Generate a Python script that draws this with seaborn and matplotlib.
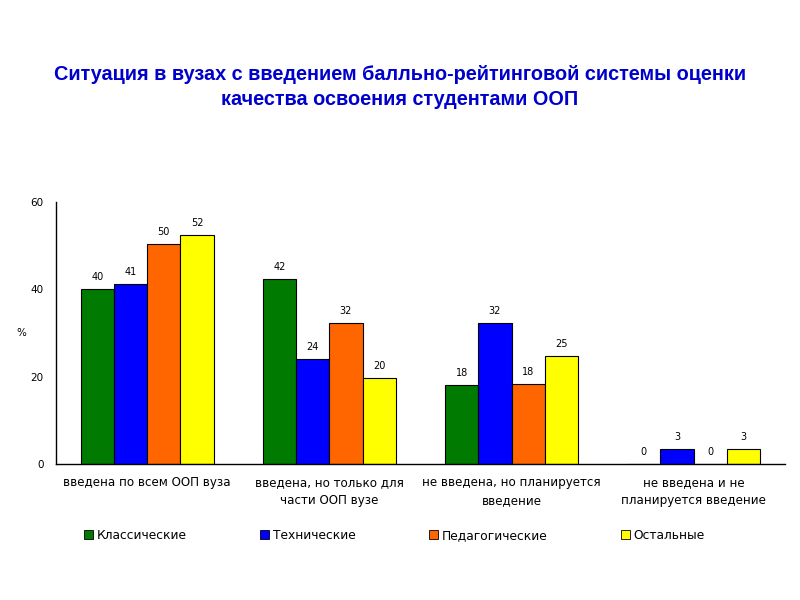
import matplotlib
matplotlib.use("Agg")
import matplotlib.pyplot as plt
import seaborn as sns
import pandas as pd

categories = ["введена по всем ООП вуза",
              "введена, но только для\nчасти ООП вузе",
              "не введена, но планируется\nвведение",
              "не введена и не\nпланируется введение"]
series = ["Классические", "Технические", "Педагогические", "Остальные"]
klassicheskie = [40.1, 42.4, 18.1, 0]
tekhnicheskie = [41.2, 24.0, 32.3, 3.4]
pedagogicheskie = [50.4, 32.3, 18.3, 0]
ostalnye = [52.4, 19.7, 24.7, 3.4]
colors = ["#007A00", "#0000FF", "#FF6600", "#FFFF00"]

rows = []
for name, vals in zip(series, [klassicheskie, tekhnicheskie, pedagogicheskie, ostalnye]):
    for cat, v in zip(categories, vals):
        rows.append({"cat": cat, "series": name, "value": v})
df = pd.DataFrame(rows)

sns.set_theme(style="white")
plt.rcParams['font.family'] = ['DejaVu Sans']
plt.rcParams['text.color'] = 'black'
plt.rcParams['xtick.color'] = 'black'
plt.rcParams['ytick.color'] = 'black'
plt.rcParams['axes.labelcolor'] = 'black'

fig = plt.figure(figsize=(8, 6), dpi=100)
ax = fig.add_axes([0.07, 0.2267, 0.911, 0.4366])

sns.barplot(data=df, x="cat", y="value", hue="series", palette=colors,
            width=0.73, gap=0, edgecolor="black", linewidth=0.8,
            saturation=1, legend=False, ax=ax)

for cont in ax.containers:
    ax.bar_label(cont, labels=[f"{round(b.get_height()):.0f}" for b in cont],
                 padding=5, fontsize=7, color="black")

ax.set_ylim(0, 60)
ax.set_yticks([0, 20, 40, 60])
ax.set_xlim(-0.5, 3.5)
ax.set_xlabel("")
ax.set_ylabel("%", rotation=0, fontsize=7.5, va="center", ha="center")
ax.yaxis.set_label_coords(-0.048, 0.5)
ax.tick_params(axis="y", length=0, labelsize=7.5, pad=9)
ax.tick_params(axis="x", length=0, labelsize=8.6, pad=9)
for lbl in ax.get_xticklabels():
    lbl.set_linespacing(1.45)
for s in ["top", "right"]:
    ax.spines[s].set_visible(False)
for s in ["left", "bottom"]:
    ax.spines[s].set_color("black")
    ax.spines[s].set_linewidth(1)

fig.text(0.5, 0.855, "Ситуация в вузах с введением балльно-рейтинговой системы оценки\nкачества освоения студентами ООП",
         ha="center", va="center", fontsize=14.3, fontweight="bold", color="#0000CC",
         linespacing=1.45, family=["Liberation Sans", "DejaVu Sans"])

handles = [plt.Rectangle((0, 0), 1, 1, facecolor=c, edgecolor="black", linewidth=0.6) for c in colors]
fig.legend(handles, series, loc="center", bbox_to_anchor=(0.493, 0.108), ncol=4, frameon=False,
           fontsize=8.8, handlelength=0.75, handleheight=0.75, handletextpad=0.3, columnspacing=6.0)

fig.savefig("out.png", dpi=100)
